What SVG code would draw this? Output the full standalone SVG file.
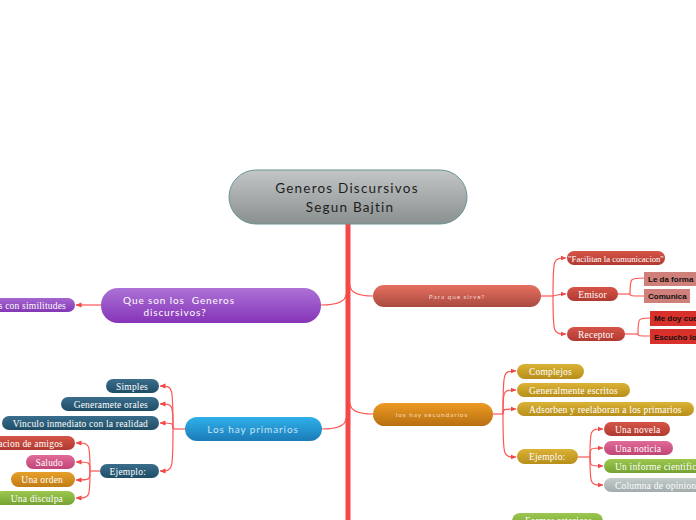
<svg xmlns="http://www.w3.org/2000/svg" width="696" height="520" viewBox="0 0 696 520">
<defs>
<linearGradient id="gGray" x1="0" y1="0" x2="0" y2="1"><stop offset="0" stop-color="#c2c6c6"/><stop offset="1" stop-color="#8a8f8f"/></linearGradient>
<linearGradient id="gPurple" x1="0" y1="0" x2="0" y2="1"><stop offset="0" stop-color="#ac72d6"/><stop offset="1" stop-color="#8634b8"/></linearGradient>
<linearGradient id="gRedMain" x1="0" y1="0" x2="0" y2="1"><stop offset="0" stop-color="#e6705f"/><stop offset="1" stop-color="#a94a40"/></linearGradient>
<linearGradient id="gOrange" x1="0" y1="0" x2="0" y2="1"><stop offset="0" stop-color="#ec9a22"/><stop offset="1" stop-color="#b86f12"/></linearGradient>
<linearGradient id="gBlue" x1="0" y1="0" x2="0" y2="1"><stop offset="0" stop-color="#30b0ea"/><stop offset="1" stop-color="#1a7cb8"/></linearGradient>
<linearGradient id="gRed" x1="0" y1="0" x2="0" y2="1"><stop offset="0" stop-color="#d65448"/><stop offset="1" stop-color="#b03a30"/></linearGradient>
<linearGradient id="gTeal" x1="0" y1="0" x2="0" y2="1"><stop offset="0" stop-color="#3a6e8c"/><stop offset="1" stop-color="#1f4d66"/></linearGradient>
<linearGradient id="gGold" x1="0" y1="0" x2="0" y2="1"><stop offset="0" stop-color="#dcb236"/><stop offset="1" stop-color="#b68e1a"/></linearGradient>
<linearGradient id="gPink" x1="0" y1="0" x2="0" y2="1"><stop offset="0" stop-color="#e06a98"/><stop offset="1" stop-color="#c04678"/></linearGradient>
<linearGradient id="gOr2" x1="0" y1="0" x2="0" y2="1"><stop offset="0" stop-color="#e8a02a"/><stop offset="1" stop-color="#c07c14"/></linearGradient>
<linearGradient id="gGreen" x1="0" y1="0" x2="0" y2="1"><stop offset="0" stop-color="#9cc850"/><stop offset="1" stop-color="#76a232"/></linearGradient>
<linearGradient id="gSilver" x1="0" y1="0" x2="0" y2="1"><stop offset="0" stop-color="#c4cccc"/><stop offset="1" stop-color="#a2acac"/></linearGradient>
<linearGradient id="gPurpleS" x1="0" y1="0" x2="0" y2="1"><stop offset="0" stop-color="#a466d0"/><stop offset="1" stop-color="#8438b4"/></linearGradient>
<marker id="arr" viewBox="0 0 6 6" refX="5.5" refY="3" markerWidth="5" markerHeight="5" orient="auto"><path d="M0,0.5 L6,3 L0,5.5 Z" fill="#f04848"/></marker>
</defs>
<style>
.c{fill:none;stroke:#f55;stroke-width:1.2}
.ca{fill:none;stroke:#f55;stroke-width:1.2;marker-end:url(#arr)}
.t{font-family:"Liberation Serif",serif;font-size:9.5px;fill:#fff;letter-spacing:0.2px}
.b{font-family:"Liberation Sans",Arial,sans-serif;font-size:8px;font-weight:bold;fill:#111}
.m{font-family:Lato,"Open Sans",sans-serif;fill:#fff;letter-spacing:0.9px;white-space:pre}
</style>

<g id="connectors">
<line x1="348" y1="224" x2="348" y2="520" stroke="#f44848" stroke-width="5"/>
<path class="c" d="M346,294 Q346,305 321,305"/>
<path class="c" d="M350,285 Q350,296 373,296"/>
<path class="c" d="M346,418 Q346,429 322,429"/>
<path class="c" d="M350,403 Q350,414 373,414"/>
<path class="ca" d="M101,305 H76"/>
<path class="c" d="M541,296 H553"/>
<path class="ca" d="M553,296 C553,258 553,258 566,258"/>
<path class="ca" d="M553,296 Q560,294 566,294"/>
<path class="ca" d="M553,296 C553,334 553,334 566,334"/>
<path class="c" d="M618,294 H630"/>
<path class="c" d="M630,294 C630,278 630,278 644,278"/>
<path class="c" d="M630,294 C630,296 630,296 644,296"/>
<path class="c" d="M625,334 H638"/>
<path class="c" d="M638,334 C638,318 638,318 650,318"/>
<path class="c" d="M638,334 C638,336 638,336 650,336"/>
<path class="c" d="M493,414 H503"/>
<path class="ca" d="M503,414 C503,371 503,371 516,371"/>
<path class="ca" d="M503,414 C503,390 503,390 516,390"/>
<path class="ca" d="M503,414 C503,409 503,409 516,409"/>
<path class="ca" d="M503,414 C503,457 503,457 516,457"/>
<path class="c" d="M578,457 H590"/>
<path class="ca" d="M590,457 C590,429 590,429 603,429"/>
<path class="ca" d="M590,457 C590,448 590,448 603,448"/>
<path class="ca" d="M590,457 C590,466 590,466 603,466"/>
<path class="ca" d="M590,457 C590,485 590,485 603,485"/>
<path class="c" d="M185,429 H173"/>
<path class="ca" d="M173,429 C173,386 173,386 160,386"/>
<path class="ca" d="M173,429 C173,404 173,404 160,404"/>
<path class="ca" d="M173,429 C173,423 173,423 160,423"/>
<path class="ca" d="M173,429 C173,471 173,471 160,471"/>
<path class="c" d="M100,471 H90"/>
<path class="ca" d="M90,471 C90,443 90,443 76,443"/>
<path class="ca" d="M90,471 C90,462 90,462 76,462"/>
<path class="ca" d="M90,471 C90,480 90,480 76,480"/>
<path class="ca" d="M90,471 C90,498 90,498 76,498"/>
</g>

<g id="central">
<rect x="229" y="170" width="238" height="54" rx="27" fill="url(#gGray)" stroke="#6a9494" stroke-width="1"/>
<text x="347" y="193" text-anchor="middle" font-family="Lato,'Open Sans',sans-serif" font-size="13.5" fill="#1e1e1e" letter-spacing="1.2">Generos Discursivos</text>
<text x="350" y="212" text-anchor="middle" font-family="Lato,'Open Sans',sans-serif" font-size="13.5" fill="#1e1e1e" letter-spacing="1.2">Segun Bajtin</text>
</g>

<g id="que-son">
<rect x="101" y="288" width="220" height="35" rx="17" fill="url(#gPurple)"/>
<text class="m" x="179" y="304" text-anchor="middle" font-size="10">Que son los  Generos</text>
<text class="m" x="175" y="316" text-anchor="middle" font-size="10">discursivos?</text>
</g>
<g id="similitudes">
<rect x="-40" y="298" width="115" height="14" rx="7" fill="url(#gPurpleS)"/>
<text class="t" x="66" y="308.5" text-anchor="end">s con similitudes</text>
</g>

<g id="para-que">
<rect x="373" y="285" width="168" height="22" rx="11" fill="url(#gRedMain)"/>
<text class="m" x="457" y="299" text-anchor="middle" font-size="6.5" style="fill:#f2d2cc">Para que sirve?</text>
</g>
<g id="facilitan"><rect x="567" y="251" width="98" height="14" rx="7" fill="url(#gRed)"/><text class="t" x="616" y="261.5" text-anchor="middle" style="font-size:8.6px;letter-spacing:0">"Facilitan la comunicacion"</text></g>
<g id="emisor"><rect x="567" y="287" width="51" height="14" rx="7" fill="url(#gRed)"/><text class="t" x="592.5" y="297.5" text-anchor="middle">Emisor</text></g>
<g id="receptor"><rect x="567" y="327" width="58" height="14" rx="7" fill="url(#gRed)"/><text class="t" x="596" y="337.5" text-anchor="middle">Receptor</text></g>
<g id="le-da-forma"><rect x="644" y="272" width="60" height="14" fill="#d0807a"/><text class="b" x="648" y="281.5">Le da forma</text></g>
<g id="comunica"><rect x="644" y="289" width="46" height="14" fill="#d0807a"/><text class="b" x="648" y="299">Comunica</text></g>
<g id="me-doy"><rect x="650" y="311" width="54" height="15" fill="#d8302a"/><text class="b" x="654" y="321">Me doy cuenta</text></g>
<g id="escucho"><rect x="650" y="329" width="54" height="15" fill="#d8302a"/><text class="b" x="654" y="339.5">Escucho lo</text></g>

<g id="secundarios">
<rect x="373" y="403" width="120" height="23" rx="11.5" fill="url(#gOrange)"/>
<text class="m" x="432" y="417" text-anchor="middle" font-size="6.5" style="fill:#f6dcb8">los hay secundarios</text>
</g>
<g id="complejos"><rect x="517" y="364" width="67" height="15" rx="7.5" fill="url(#gGold)"/><text class="t" x="529" y="375">Complejos</text></g>
<g id="escritos"><rect x="517" y="383" width="113" height="14" rx="7" fill="url(#gGold)"/><text class="t" x="529" y="393.5">Generalmente escritos</text></g>
<g id="adsorben"><rect x="517" y="402" width="177" height="14" rx="7" fill="url(#gGold)"/><text class="t" x="529" y="412.5">Adsorben y reelaboran a los primarios</text></g>
<g id="ejemplo-sec"><rect x="517" y="449" width="61" height="15" rx="7.5" fill="url(#gGold)"/><text class="t" x="529" y="460">Ejemplo:</text></g>
<g id="novela"><rect x="604" y="422" width="66" height="14" rx="7" fill="url(#gRed)"/><text class="t" x="615" y="432.5">Una novela</text></g>
<g id="noticia"><rect x="604" y="441" width="69" height="14" rx="7" fill="url(#gPink)"/><text class="t" x="615" y="451.5">Una noticia</text></g>
<g id="informe"><rect x="604" y="459" width="100" height="14" rx="7" fill="url(#gGreen)"/><text class="t" x="615" y="469.5">Un informe cientifico</text></g>
<g id="columna"><rect x="604" y="478" width="100" height="14" rx="7" fill="url(#gSilver)"/><text class="t" x="615" y="488.5">Columna de opinion</text></g>
<g id="formas"><rect x="512" y="513" width="91" height="16" rx="8" fill="url(#gGreen)"/><text class="t" x="525" y="524">Formas retoricas</text></g>

<g id="primarios">
<rect x="185" y="417" width="137" height="24" rx="12" fill="url(#gBlue)"/>
<text class="m" x="253" y="432.5" text-anchor="middle" font-size="10" style="fill:#c8e4f4">Los hay primarios</text>
</g>
<g id="simples"><rect x="106" y="379" width="53" height="14" rx="7" fill="url(#gTeal)"/><text class="t" x="148" y="389.5" text-anchor="end">Simples</text></g>
<g id="orales"><rect x="61" y="397" width="98" height="14" rx="7" fill="url(#gTeal)"/><text class="t" x="148" y="407.5" text-anchor="end">Generamete orales</text></g>
<g id="vinculo"><rect x="2" y="416" width="157" height="14" rx="7" fill="url(#gTeal)"/><text class="t" x="148" y="426.5" text-anchor="end">Vinculo inmediato con la realidad</text></g>
<g id="ejemplo-pri"><rect x="100" y="464" width="59" height="14" rx="7" fill="url(#gTeal)"/><text class="t" x="146" y="474.5" text-anchor="end">Ejemplo:</text></g>
<g id="amigos"><rect x="-30" y="436" width="105" height="14" rx="7" fill="url(#gRed)"/><text class="t" x="63" y="446.5" text-anchor="end">acion de amigos</text></g>
<g id="saludo"><rect x="26" y="455" width="49" height="14" rx="7" fill="url(#gPink)"/><text class="t" x="63" y="465.5" text-anchor="end">Saludo</text></g>
<g id="orden"><rect x="11" y="472" width="64" height="15" rx="7.5" fill="url(#gOr2)"/><text class="t" x="63" y="483" text-anchor="end">Una orden</text></g>
<g id="disculpa"><rect x="-5" y="491" width="80" height="14" rx="7" fill="url(#gGreen)"/><text class="t" x="63" y="501.5" text-anchor="end">Una disculpa</text></g>
</svg>
